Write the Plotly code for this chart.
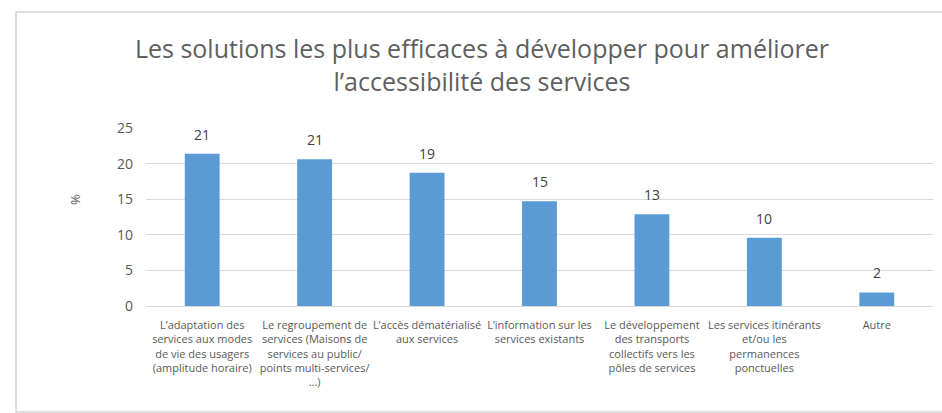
import plotly.graph_objects as go

categories = [
    "L’adaptation des<br>services aux modes<br>de vie des usagers<br>(amplitude horaire)",
    "Le regroupement de<br>services (Maisons de<br>services au public/<br>points multi-services/<br>...)",
    "L’accès dématérialisé<br>aux services",
    "L’information sur les<br>services existants",
    "Le développement<br>des transports<br>collectifs vers les<br>pôles de services",
    "Les services itinérants<br>et/ou les<br>permanences<br>ponctuelles",
    "Autre",
]
values = [21.4, 20.6, 18.7, 14.7, 12.9, 9.6, 1.9]
y_ticks = [0, 5, 10, 15, 20, 25]

title_text = "Les solutions les plus efficaces à développer pour améliorer<br>l’accessibilité des services"

FONT = "'Open Sans', Lato, sans-serif"
W, H = 942, 413
L, R, T, B = 146, 9, 128, 107
pw, ph = W - L - R, H - T - B

def px_x(x):
    return (x - L) / pw

def px_y(y):
    return (H - B - y) / ph

fig = go.Figure()
fig.add_trace(go.Bar(
    x=categories,
    y=values,
    marker=dict(color="#5B9BD5", line=dict(width=0)),
    width=0.31,
    hoverinfo="x+y",
))

annotations = [
    dict(
        x=c, y=v, xref="x", yref="y",
        text=f"{v:.0f}", showarrow=False,
        xanchor="center", yanchor="bottom", yshift=8,
        font=dict(family=FONT, size=14, color="#404040"),
    )
    for c, v in zip(categories, values)
]
annotations.append(dict(
    text="%",
    xref="paper", yref="paper",
    x=px_x(75), y=px_y(200),
    showarrow=False, textangle=-90,
    xanchor="center", yanchor="middle",
    font=dict(family=FONT, size=13, color="#595959"),
))

fig.update_layout(
    width=W, height=H,
    margin=dict(l=L, r=R, t=T, b=B, autoexpand=False),
    paper_bgcolor="white",
    plot_bgcolor="white",
    showlegend=False,
    title=dict(
        text=title_text,
        xref="container", yref="container",
        x=482 / W, y=1 - 58 / H,
        xanchor="center", yanchor="middle",
        font=dict(family=FONT, size=25, color="#5F5F5F"),
    ),
    xaxis=dict(
        showgrid=False,
        showline=False,
        tickfont=dict(family=FONT, size=11, color="#595959"),
        ticklabelstandoff=11,
        tickangle=0,
    ),
    yaxis=dict(
        range=[0, 25],
        tickvals=y_ticks,
        showgrid=True,
        gridcolor="#D9D9D9",
        gridwidth=1,
        zeroline=True,
        zerolinecolor="#D9D9D9",
        zerolinewidth=1,
        showline=False,
        tickfont=dict(family=FONT, size=14, color="#595959"),
        ticklabelstandoff=12,
    ),
    annotations=annotations,
    shapes=[
        dict(
            type="rect",
            xref="paper", yref="paper",
            x0=px_x(16), x1=px_x(960),
            y0=px_y(412), y1=px_y(12),
            line=dict(color="#D4D4D4", width=1.5),
            fillcolor="rgba(0,0,0,0)",
            layer="below",
        )
    ],
)

fig.write_html("out.html")
